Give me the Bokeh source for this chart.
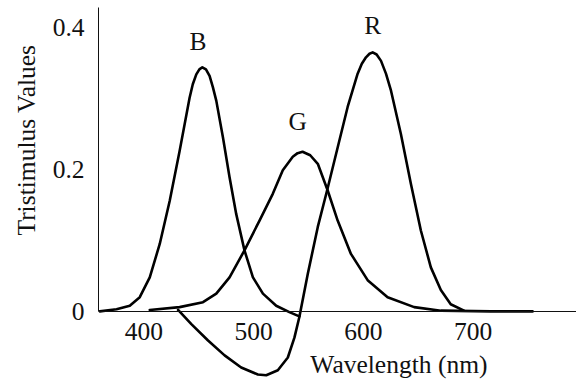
import math
from bokeh.plotting import figure
from bokeh.models import Range1d, FixedTicker, Label, Title, ColumnDataSource
from bokeh.core.properties import value
from bokeh.embed import file_html
from bokeh.resources import INLINE

# ---- data ----
b_wl = [359.8, 375.0, 387.1, 396.2, 405.3, 414.4, 423.5, 432.5, 441.6, 444.5, 447.7, 450.5, 453.2, 456.5,
        459.8, 462.8, 465.9, 472.0, 478.0, 484.1, 491.6, 499.3, 508.4, 520.5, 532.5, 541.6]
b_val = [0.000, 0.003, 0.008, 0.020, 0.048, 0.095, 0.156, 0.226, 0.301, 0.320, 0.334, 0.341, 0.344, 0.341,
         0.332, 0.316, 0.297, 0.245, 0.189, 0.137, 0.086, 0.048, 0.025, 0.008, -0.001, -0.007]

g_wl = [405.3, 432.5, 453.8, 465.9, 478.0, 491.6, 505.3, 517.5, 526.5, 535.6, 540.0, 544.5, 551.5,
        558.4, 567.5, 576.5, 588.6, 603.8, 622.0, 646.2, 670.5, 715.9, 754.1]
g_val = [0.002, 0.006, 0.013, 0.025, 0.048, 0.086, 0.128, 0.166, 0.199, 0.218, 0.223, 0.225, 0.220,
         0.208, 0.170, 0.128, 0.081, 0.044, 0.020, 0.006, 0.001, 0.000, 0.000]

r_wl = [431.1, 443.2, 458.4, 473.5, 488.6, 503.8, 511.4, 522.0, 531.1, 537.1, 541.6, 549.3, 558.4,
        566.8, 576.5, 585.6, 594.7, 598.5, 602.3, 605.5, 608.4, 612.0, 616.0, 620.5, 625.1, 634.1,
        643.2, 652.3, 661.4, 670.5, 679.5, 691.6]
r_val = [0.002, -0.018, -0.041, -0.062, -0.079, -0.089, -0.090, -0.083, -0.065, -0.037, -0.008, 0.053,
         0.119, 0.170, 0.231, 0.288, 0.335, 0.349, 0.358, 0.363, 0.365, 0.362, 0.353, 0.335, 0.311,
         0.250, 0.180, 0.114, 0.062, 0.030, 0.010, 0.001]

peak_names = ["B", "G", "R"]
peak_wl = [449.3, 540.2, 608.4]
peak_val = [0.380, 0.267, 0.403]

x_ticks = [400, 500, 600, 700]
y_ticks = [0, 0.2, 0.4]
y_tick_labels = ["0", "0.2", "0.4"]

x_title = "Wavelength (nm)"
y_title = "Tristimulus Values"

FONT = "Liberation Serif"
FSIZE = "25.5px"
INK = "#111111"

p = figure(width=576, height=381, output_backend="svg", toolbar_location=None,
           x_range=Range1d(358.6, 794.1), y_range=Range1d(-0.0988, 0.4282),
           min_border_left=97, min_border_right=0, min_border_top=7, min_border_bottom=0)
p.outline_line_color = None
p.xgrid.visible = False
p.ygrid.visible = False
p.background_fill_color = "white"
p.border_fill_color = "white"

# x axis at y = 0
xa = p.xaxis[0]
xa.fixed_location = 0
xa.ticker = FixedTicker(ticks=x_ticks)
xa.major_tick_line_color = None
xa.minor_tick_line_color = None
xa.major_tick_in = 0
xa.major_tick_out = 0
xa.major_label_standoff = 12
xa.axis_line_color = INK
xa.axis_line_width = 1
xa.major_label_text_font = FONT
xa.major_label_text_font_size = FSIZE
xa.major_label_text_color = INK

ya = p.yaxis[0]
ya.ticker = FixedTicker(ticks=y_ticks)
ya.major_label_overrides = {t: s for t, s in zip(y_ticks, y_tick_labels)}
ya.bounds = (0, 0.4282)
ya.major_tick_line_color = None
ya.minor_tick_line_color = None
ya.major_tick_in = 0
ya.major_tick_out = 0
ya.major_label_standoff = 14
ya.axis_line_color = INK
ya.axis_line_width = 1
ya.major_label_text_font = FONT
ya.major_label_text_font_size = FSIZE
ya.major_label_text_color = INK

for xs, ys in ((b_wl, b_val), (g_wl, g_val), (r_wl, r_val)):
    p.line(xs, ys, line_color="black", line_width=2.6, line_join="round", line_cap="round")

src = ColumnDataSource(dict(x=peak_wl, y=peak_val, t=peak_names))
p.text(x="x", y="y", text="t", source=src, text_font=value(FONT), text_font_size=value(FSIZE),
       text_align="center", text_baseline="middle", text_color=INK)

p.add_layout(Label(x=632.3, y=-0.0751, text=x_title, text_font=FONT, text_font_size=FSIZE,
                   text_align="center", text_baseline="middle", text_color=INK))

yt = Title(text=y_title, align="right", offset=37, text_font=FONT, text_font_size=FSIZE,
           text_font_style="normal", text_color=INK, standoff=18)
p.add_layout(yt, "left")

open("out.html", "w").write(file_html(p, INLINE))
